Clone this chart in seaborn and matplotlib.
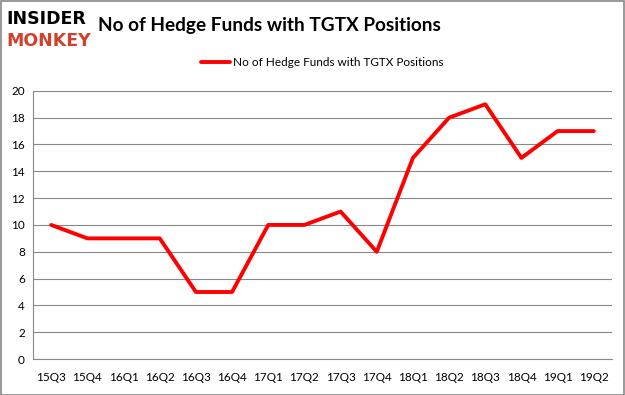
import numpy as np
import pandas as pd
import matplotlib
matplotlib.use("Agg")
import matplotlib.pyplot as plt
import seaborn as sns

quarters = ["15Q3", "15Q4", "16Q1", "16Q2", "16Q3", "16Q4", "17Q1", "17Q2",
            "17Q3", "17Q4", "18Q1", "18Q2", "18Q3", "18Q4", "19Q1", "19Q2"]
funds = [10, 9, 9, 9, 5, 5, 10, 10, 11, 8, 15, 18, 19, 15, 17, 17]
series_name = "No of Hedge Funds with TGTX Positions"

df = pd.DataFrame({"quarter": np.arange(len(quarters)), "funds": funds})

sns.set_style("white")
plt.rcParams["font.family"] = ["Lato", "DejaVu Sans"]
plt.rcParams["text.color"] = "black"
plt.rcParams["xtick.color"] = "black"
plt.rcParams["ytick.color"] = "black"

fig = plt.figure(figsize=(6.25, 3.95), dpi=100)
ax = fig.add_axes([0.053, 0.091, 0.926, 0.679])

sns.lineplot(data=df, x="quarter", y="funds", color="#ff0000", linewidth=2.8,
             label=series_name, ax=ax)

ax.set_xlim(-0.5, len(quarters) - 0.5)
ax.set_ylim(0, 20)
ax.set_yticks(range(0, 21, 2))
ax.set_xticks(np.arange(len(quarters)))
ax.set_xticklabels(quarters, fontsize=8.5)
ax.set_xticks(np.arange(-0.5, len(quarters)), minor=True)
ax.tick_params(axis="x", which="major", length=0, pad=9)
ax.tick_params(axis="x", which="minor", length=4, color="#888888", width=0.8)
ax.tick_params(axis="y", labelsize=8.5, length=0, pad=6)
ax.set_xlabel("")
ax.set_ylabel("")
ax.grid(axis="y", color="#888888", linewidth=0.8)
ax.set_axisbelow(True)
for s in ["top", "right"]:
    ax.spines[s].set_visible(False)
ax.spines["left"].set_color("#888888")
ax.spines["bottom"].set_color("#888888")
ax.spines["left"].set_linewidth(0.8)
ax.spines["bottom"].set_linewidth(0.8)

ax.legend(loc="center", bbox_to_anchor=(0.5, 1.107), frameon=False,
          fontsize=8.5, handlelength=2.4, handletextpad=0.3)

# logo and title
fig.text(0.01, 0.952, "INSIDER", fontsize=12.5, fontweight="heavy", color="black",
         va="center", ha="left", family="DejaVu Sans")
fig.text(0.01, 0.897, "MONKEY", fontsize=12.5, fontweight="heavy", color="#d0402c",
         va="center", ha="left", family="DejaVu Sans")
fig.text(0.157, 0.935, "No of Hedge Funds with TGTX Positions", fontsize=13.7,
         fontweight="bold", va="center", ha="left", color="black")

fig.patches.append(plt.Rectangle((0.001, 0.001), 0.997, 0.997, fill=False,
                                 edgecolor="#888888", linewidth=1.2,
                                 transform=fig.transFigure))

fig.savefig("out.png", dpi=100)
